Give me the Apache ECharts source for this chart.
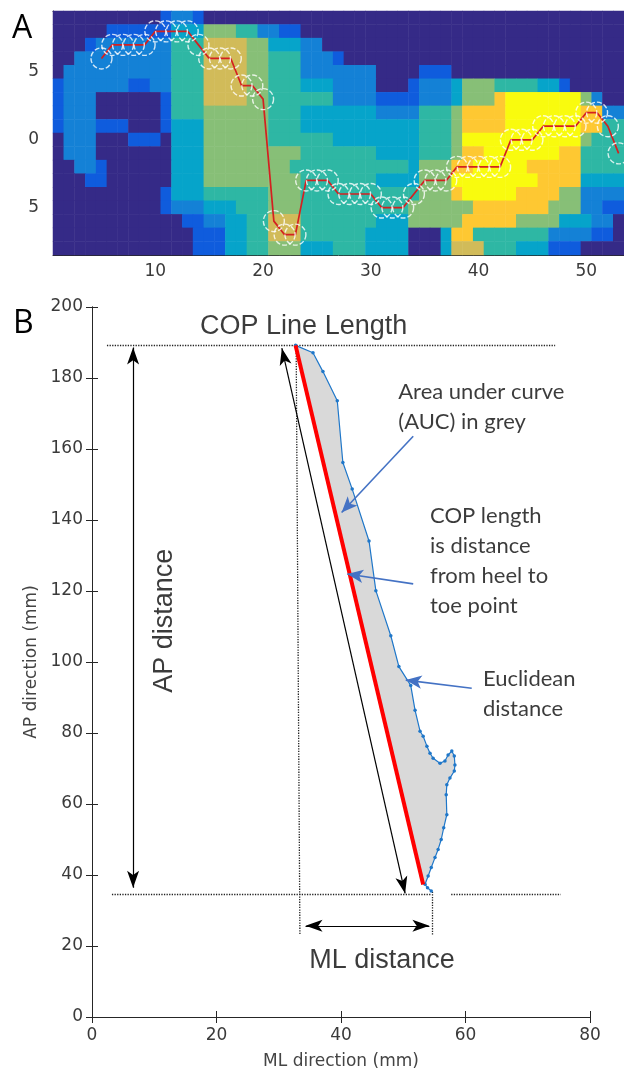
<!DOCTYPE html>
<html>
<head>
<meta charset="utf-8">
<script src="https://cdn.jsdelivr.net/npm/echarts@6/dist/echarts.min.js"></script>
<style>
  html, body { margin: 0; padding: 0; background: #fff; }
  #chart { width: 624px; height: 1075px; }
</style>
</head>
<body>
<div id="chart"></div>
<script>
// ---- panel A: pressure map, one string per row (top to bottom), level 0 (low) .. 8 (high)
const heatRows = [
  '00000 00000 12210 00000 00000 00000 00000 00000 00000 00000 000',
  '00000 11111 13335 55442 21100 00000 00000 00000 00000 00000 000',
  '00012 22222 24446 66655 33322 00000 00000 00000 00000 00000 000',
  '00222 22222 24446 66655 44422 21000 00000 00000 00000 00000 000',
  '02222 22222 24446 66655 44422 22222 00001 11000 00000 00000 000',
  '12222 22112 24446 66655 44433 32222 00012 22355 54444 33100 000',
  '12220 00000 14446 66655 44444 42222 11112 22355 57888 88885 200',
  '12220 00000 14445 55555 44433 33333 22224 44577 77888 88887 722',
  '12221 11000 13335 55555 44433 33333 33334 44577 77888 88887 744',
  '02220 00111 03335 55555 44444 43333 33334 44588 88888 88885 444',
  '02220 00000 03335 55555 55544 44444 33334 44577 88888 88774 444',
  '00221 00000 03335 55555 55444 44444 44435 55778 88887 77774 444',
  '00011 00000 03335 55555 55544 44444 33335 55888 88888 77773 333',
  '00000 00000 13334 44444 55544 44444 44445 55788 88877 77552 222',
  '00000 00000 12223 33444 55544 44444 44455 55557 77777 75552 211',
  '00000 00000 00112 23344 66644 44444 33355 55577 77755 55333 220',
  '00000 00000 00011 13344 66644 44443 33300 03774 44444 42222 110',
  '00000 00000 00011 13344 55533 34443 33300 03666 44433 31110 000'
]

// COP path over the map (column, row)
const copCol = [5, 6, 7, 8, 9, 10, 11, 12, 13, 14, 15, 16, 17, 18, 19, 20, 21, 22, 23, 24, 25, 26, 27, 28, 29,
  30, 31, 32, 33, 34, 35, 36, 37, 38, 39, 40, 41, 42, 43, 44, 45, 46, 47, 48, 49, 50, 51, 52, 53]
const copRow = [4, 3, 3, 3, 3, 2, 2, 2, 2, 3, 4, 4, 4, 6, 6, 7, 16, 17, 17, 13, 13, 13, 14, 14, 14,
  14, 15, 15, 15, 14, 13, 13, 13, 12, 12, 12, 12, 12, 10, 10, 10, 9, 9, 9, 9, 8, 8, 9, 11]

const aXTicks = [10, 20, 30, 40, 50]
const aYTicks = [5, 10, 15]
const aYTickText = ['5', '0', '5']

// ---- panel B: COP trajectory (mm)
const trajX = [32.7, 35.5, 37.1, 39.4, 40.3, 41.8, 44.5, 45.6, 48.0, 49.3, 51.2, 51.9, 52.7, 53.2, 53.8, 54.3,
  54.8, 55.9, 56.7, 57.2, 57.8, 58.2, 58.3, 58.2, 57.5, 57.0, 56.9, 57.0, 56.5, 56.1, 55.6, 55.1, 54.5, 54.0,
  53.5, 53.9, 54.5]
const trajY = [189.2, 187.1, 181.8, 173.6, 156.2, 148.7, 134.1, 120.1, 107.4, 98.7, 93.4, 86.4, 80.5, 79.1,
  76.3, 74.3, 72.9, 71.5, 72.1, 73.8, 74.9, 73.5, 71.0, 69.3, 67.3, 65.4, 62.6, 57.0, 53.3, 50.0, 47.2, 44.9,
  42.1, 39.7, 37.4, 36.4, 35.5]

// heel -> toe straight line
const heelToeX = [32.7, 53.2]
const heelToeY = [189.2, 37.3]

// guide lines [x1, y1, x2, y2]
const dottedSegs = [
  [2.4, 189.2, 74.4, 189.2],
  [3.2, 34.7, 54.5, 34.7],
  [57.7, 34.7, 75.3, 34.7],
  [32.8, 188.5, 33.4, 23.3],
  [54.7, 35.3, 54.7, 22.9],
]
const doubleArrows = [
  [50.3, 34.8, 30.5, 188.4],
  [6.6, 36.4, 6.6, 188.6],
  [34.3, 25.7, 54.2, 25.7],
]
const calloutArrows = [
  [51.6, 163.6, 40.1, 142.1],
  [51.6, 122.0, 41.0, 124.8],
  [61.0, 92.6, 50.4, 94.9],
]

const noteText = ['COP Line Length', 'AP distance', 'ML distance',
  'Area under curve\n(AUC) in grey', 'COP length\nis distance\nfrom heel to\ntoe point', 'Euclidean\ndistance']
const noteX = [34.0, 11.7, 46.6, 49.2, 54.3, 62.8]
const noteY = [194.4, 111.6, 16.0, 171.8, 128.6, 90.9]

const parula = ['#352a87', '#0f5cdd', '#1481d6', '#06a4ca', '#2eb7a4', '#87bf77', '#d1bb59', '#fec832', '#f9fb0e']
const ink = '#262626'

const cells = heatRows.map((r) => r.replace(/ /g, ''))
const aCols = cells[0].split('').map((_, i) => String(i + 1))
const aRows = cells.map((_, i) => String(i + 1))
const heatData = []
cells.forEach((row, r) => {
  row.split('').forEach((ch, c) => heatData.push([aCols[c], aRows[r], Number(ch)]))
})
const copData = copCol.map((c, i) => [String(c), String(copRow[i])])

const toCoords = (s) => ({ coords: [[s[0], s[1]], [s[2], s[3]]] })

const bigLabel = { fontFamily: 'Liberation Sans', fontSize: 27, color: '#0a0a0a', position: 'inside' }
const calloutLabel = {
  fontFamily: 'Lato', fontSize: 22, color: '#0a0a0a', position: 'right', distance: 0, align: 'left', lineHeight: 30,
}
const noteData = noteText.map((t, i) => ({
  value: [noteX[i], noteY[i]],
  name: t,
  label: i < 3 ? { ...bigLabel, rotate: i === 1 ? 90 : 0 } : calloutLabel,
}))

const axisLineA = { show: true, lineStyle: { color: ink, width: 1 } }
const isXTick = (i, v) => aXTicks.includes(Number(v))
const isYTick = (i, v) => aYTicks.includes(Number(v))
const tickFont = { color: '#3a3a3a', fontSize: 17, fontFamily: 'DejaVu Sans' }

const chart = echarts.init(document.getElementById('chart'), null, { renderer: 'canvas' })

chart.setOption({
  animation: false,
  backgroundColor: '#fff',
  graphic: [
    { type: 'text', left: 12, top: 13, style: { text: 'A', font: '32px "Open Sans"', fill: '#000' } },
    { type: 'text', left: 13, top: 308, style: { text: 'B', font: '32px "Open Sans"', fill: '#000' } },
  ],
  grid: [
    { left: 53, top: 11, width: 571, height: 244 },
    { left: 92, top: 307, width: 498, height: 713 },
  ],
  visualMap: {
    type: 'continuous', show: false, seriesIndex: 0, min: 0, max: 8,
    inRange: { color: parula },
  },
  xAxis: [
    {
      gridIndex: 0, type: 'category', data: aCols, position: 'bottom',
      axisLine: axisLineA,
      axisTick: { inside: true, length: 4, alignWithLabel: true, interval: isXTick, lineStyle: { color: ink } },
      axisLabel: { ...tickFont, interval: isXTick, margin: 8 },
      splitLine: { show: false },
    },
    {
      gridIndex: 0, type: 'category', data: aCols, position: 'top',
      axisLine: axisLineA,
      axisTick: { inside: true, length: 4, alignWithLabel: true, interval: isXTick, lineStyle: { color: ink } },
      axisLabel: { show: false },
      splitLine: { show: false },
    },
    {
      gridIndex: 1, type: 'value', min: 0, max: 80, interval: 20, position: 'bottom',
      axisLine: axisLineA,
      axisTick: { inside: true, length: 6, lineStyle: { color: ink } },
      axisLabel: { ...tickFont, margin: 10 },
      splitLine: { show: false },
      name: 'ML direction (mm)', nameLocation: 'middle', nameGap: 36,
      nameTextStyle: { ...tickFont, color: '#444' },
    },
    {
      gridIndex: 1, type: 'value', min: 0, max: 80, interval: 20, position: 'top',
      axisLine: axisLineA,
      axisTick: { inside: true, length: 6, lineStyle: { color: ink } },
      axisLabel: { show: false },
      splitLine: { show: false },
    },
  ],
  yAxis: [
    {
      gridIndex: 0, type: 'category', data: aRows, inverse: true,
      axisLine: axisLineA,
      axisTick: { inside: true, length: 4, alignWithLabel: true, interval: isYTick, lineStyle: { color: ink } },
      axisLabel: {
        ...tickFont, interval: isYTick, margin: 14,
        formatter: (v) => aYTickText[aYTicks.indexOf(Number(v))],
      },
      splitLine: { show: false },
    },
    {
      gridIndex: 1, type: 'value', min: 0, max: 200, interval: 20, position: 'left',
      axisLine: axisLineA,
      axisTick: { inside: true, length: 6, lineStyle: { color: ink } },
      axisLabel: { ...tickFont, margin: 9 },
      splitLine: { show: false },
      name: 'AP direction (mm)', nameLocation: 'middle', nameGap: 50, nameRotate: 90,
      nameTextStyle: { ...tickFont, color: '#444' },
    },
    {
      gridIndex: 1, type: 'value', min: 0, max: 200, interval: 20, position: 'right',
      axisLine: axisLineA,
      axisTick: { inside: true, length: 6, lineStyle: { color: ink } },
      axisLabel: { show: false },
      splitLine: { show: false },
    },
  ],
  series: [
    {
      type: 'heatmap', xAxisIndex: 0, yAxisIndex: 0, data: heatData, silent: true, progressive: 0,
      itemStyle: { borderWidth: 0 },
    },
    {
      type: 'line', xAxisIndex: 0, yAxisIndex: 0, data: copData, silent: true, z: 3,
      symbol: 'none', lineStyle: { color: '#d42020', width: 1.7 },
    },
    {
      type: 'scatter', xAxisIndex: 0, yAxisIndex: 0, data: copData, silent: true, z: 4,
      symbol: 'circle', symbolSize: 21,
      itemStyle: { color: 'rgba(0,0,0,0)', borderColor: '#ffffff', borderWidth: 1.4, borderType: [5, 2] },
    },
    {
      type: 'custom', xAxisIndex: 2, yAxisIndex: 1, silent: true, z: 2,
      data: [[trajX[0], trajY[0]]],
      renderItem: (params, api) => {
        const pts = trajX.map((x, i) => api.coord([x, trajY[i]]))
        pts.push(api.coord([heelToeX[1], heelToeY[1]]))
        return { type: 'polygon', shape: { points: pts }, style: { fill: '#d9d9d9' } }
      },
    },
    {
      type: 'line', xAxisIndex: 2, yAxisIndex: 1, silent: true, z: 3,
      data: trajX.map((x, i) => [x, trajY[i]]),
      symbol: 'circle', symbolSize: 3.5, showAllSymbol: true,
      lineStyle: { color: '#1f77c9', width: 1.2 }, itemStyle: { color: '#1f77c9' },
    },
    {
      type: 'line', xAxisIndex: 2, yAxisIndex: 1, silent: true, z: 4,
      data: heelToeX.map((x, i) => [x, heelToeY[i]]),
      symbol: 'none', lineStyle: { color: '#ff0000', width: 4 },
    },
    {
      type: 'lines', coordinateSystem: 'cartesian2d', xAxisIndex: 2, yAxisIndex: 1, silent: true, z: 3,
      data: dottedSegs.map(toCoords), symbol: 'none',
      lineStyle: { color: '#222', width: 1.3, type: 'dotted', opacity: 1 },
    },
    {
      type: 'lines', coordinateSystem: 'cartesian2d', xAxisIndex: 2, yAxisIndex: 1, silent: true, z: 5,
      data: doubleArrows.map(toCoords), symbol: ['arrow', 'arrow'], symbolSize: [[9, 17], [9, 17]],
      lineStyle: { color: '#000', width: 1.2, opacity: 1 },
    },
    {
      type: 'lines', coordinateSystem: 'cartesian2d', xAxisIndex: 2, yAxisIndex: 1, silent: true, z: 5,
      data: calloutArrows.map(toCoords), symbol: ['none', 'arrow'], symbolSize: [[10, 16], [10, 16]],
      lineStyle: { color: '#4472c4', width: 1.6, opacity: 1 },
    },
    {
      type: 'scatter', xAxisIndex: 2, yAxisIndex: 1, silent: true, z: 6,
      data: noteData, symbolSize: 0,
      label: { show: true, formatter: '{b}' },
    },
  ],
})
</script>
</body>
</html>
